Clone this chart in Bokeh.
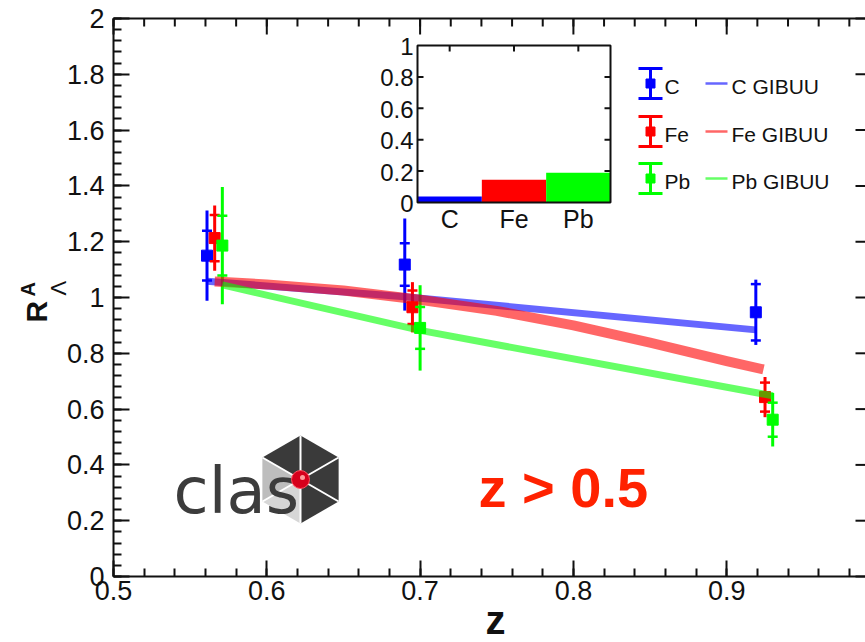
import math
from bokeh.plotting import figure
from bokeh.models import Range1d, FixedTicker, ColumnDataSource
from bokeh.embed import file_html
from bokeh.resources import INLINE
from bokeh.core.properties import value

# ---------------- data ----------------
nuclei = ["C", "Fe", "Pb"]

z_C = [0.561, 0.690, 0.919]
R_C = [1.150, 1.118, 0.947]
stat_C = [0.089, 0.076, 0.101]
tot_C = [0.162, 0.165, 0.117]

z_Fe = [0.566, 0.695, 0.925]
R_Fe = [1.213, 0.965, 0.643]
stat_Fe = [0.083, 0.060, 0.052]
tot_Fe = [0.117, 0.090, 0.072]

z_Pb = [0.571, 0.700, 0.930]
R_Pb = [1.186, 0.891, 0.562]
stat_Pb = [0.107, 0.075, 0.061]
tot_Pb = [0.210, 0.153, 0.096]

gib_z_C = [0.561, 0.690, 0.919]
gib_C = [1.058, 1.003, 0.884]
gib_z_Fe = [0.566, 0.600, 0.650, 0.700, 0.750, 0.800, 0.850, 0.900, 0.924]
gib_Fe = [1.057, 1.047, 1.025, 0.992, 0.952, 0.900, 0.838, 0.772, 0.742]
gib_z_Pb = [0.571, 0.700, 0.930]
gib_Pb = [1.045, 0.882, 0.648]

inset_vals = [0.038, 0.145, 0.190]

x_ticks = [0.5, 0.6, 0.7, 0.8, 0.9]
x_tick_labels = ["0.5", "0.6", "0.7", "0.8", "0.9"]
y_ticks = [0, 0.2, 0.4, 0.6, 0.8, 1, 1.2, 1.4, 1.6, 1.8, 2]
y_tick_labels = ["0", "0.2", "0.4", "0.6", "0.8", "1", "1.2", "1.4", "1.6", "1.8", "2"]
inset_y_ticks = [0, 0.2, 0.4, 0.6, 0.8, 1]
inset_y_labels = ["0", "0.2", "0.4", "0.6", "0.8", "1"]

colors = {"C": "#0000ff", "Fe": "#ff0000", "Pb": "#00ff00"}
series = {
    "C": (z_C, R_C, stat_C, tot_C, gib_z_C, gib_C),
    "Fe": (z_Fe, R_Fe, stat_Fe, tot_Fe, gib_z_Fe, gib_Fe),
    "Pb": (z_Pb, R_Pb, stat_Pb, tot_Pb, gib_z_Pb, gib_Pb),
}

FONT = value("Liberation Sans")
INK = "#111111"

# ---------------- layout (page pixels) ----------------
# The frame covers the whole page; the axes are pinned at z=0.5 and R=0.
W, H = 865, 642
L, R, T, B = 113, 865, 18, 576          # page position of the data box
PX_PER_Z = 1533.0
PX_PER_R = (B - T) / 2.0
X0, Y0 = 0.5, 0.0
x_end = X0 + (R - L) / PX_PER_Z

p = figure(width=W, height=H,
           x_range=Range1d(X0 - L / PX_PER_Z, X0 + (W - L) / PX_PER_Z),
           y_range=Range1d(Y0 - (H - B) / PX_PER_R, Y0 + B / PX_PER_R),
           min_border=0, output_backend="svg", toolbar_location=None, tools="",
           background_fill_color="white", border_fill_color="white")
p.outline_line_color = None
p.xgrid.visible = False
p.ygrid.visible = False

# pixel-space ranges for decorations (page pixel coordinates, y downward)
IL, IR, IT, IB = 417.0, 610.0, 45.0, 202.0
ux = 3.0 / (IR - IL)
uy = 1.0 / (IB - IT)
p.extra_x_ranges = {"px": Range1d(0, W), "ix": Range1d(-IL * ux, (W - IL) * ux)}
p.extra_y_ranges = {"py": Range1d(H, 0), "iy": Range1d((IB - H) * uy, IB * uy)}


def style_axis(ax, ticks, minor, labels):
    ax.ticker = FixedTicker(ticks=ticks, minor_ticks=minor)
    ax.major_label_overrides = dict(zip(ticks, labels))
    ax.major_tick_in = 16
    ax.major_tick_out = 0
    ax.minor_tick_in = 8
    ax.minor_tick_out = 0
    ax.axis_line_width = 2
    ax.axis_line_color = INK
    ax.major_tick_line_width = 2
    ax.minor_tick_line_width = 2
    ax.major_tick_line_color = INK
    ax.minor_tick_line_color = INK
    ax.major_label_text_font = "Liberation Sans"
    ax.major_label_text_color = INK
    ax.major_label_text_font_size = "27px"


x_minor = [round(0.5 + 0.02 * i, 2) for i in range(25)]
y_minor = [round(0.04 * i, 2) for i in range(51)]

xa = p.xaxis[0]
style_axis(xa, x_ticks, x_minor, x_tick_labels)
xa.fixed_location = Y0
xa.bounds = (X0, x_end)
xa.major_label_standoff = 4
ya = p.yaxis[0]
style_axis(ya, y_ticks, y_minor, y_tick_labels)
ya.fixed_location = X0
ya.bounds = (0, 2)
ya.major_label_standoff = 9

# top frame line and ticks, right frame ticks (frame edge lies just outside the window)
p.segment(x0=X0, x1=x_end, y0=T, y1=T, line_color=INK, line_width=2, y_range_name="py")
p.segment(x0=x_ticks, x1=x_ticks, y0=T, y1=T + 16, line_color=INK, line_width=2,
          y_range_name="py")
p.segment(x0=x_minor, x1=x_minor, y0=T, y1=T + 8, line_color=INK, line_width=2,
          y_range_name="py")
p.segment(x0=R - 10, x1=R, y0=y_ticks, y1=y_ticks, x_range_name="px",
          line_color=INK, line_width=2)

# ---------------- data points ----------------
for name in nuclei:
    z, r, st, tt, gz, gv = series[name]
    c = colors[name]
    p.segment(x0=z, x1=z, y0=[a - b for a, b in zip(r, tt)],
              y1=[a + b for a, b in zip(r, tt)], line_color=c, line_width=3)
    p.scatter(x=z + z, y=[a - b for a, b in zip(r, st)] + [a + b for a, b in zip(r, st)],
              marker="dash", size=10, line_color=c, line_width=2.5)
    p.scatter(x=z, y=r, marker="square", size=11, fill_color=c, line_color=c)

# GiBUU curves
gib_width = {"C": 7, "Fe": 10, "Pb": 7}
for name in nuclei:
    z, r, st, tt, gz, gv = series[name]
    p.line(gz, gv, line_color=colors[name], line_alpha=0.6, line_width=gib_width[name],
           line_cap="butt", line_join="round")

# ---------------- inset ----------------
p.quad(left=0, right=3, bottom=0, top=1, fill_color="white", line_color=None,
       x_range_name="ix", y_range_name="iy")
isrc = ColumnDataSource(dict(x=[0.5, 1.5, 2.5], top=inset_vals, name=nuclei,
                             color=[colors[n] for n in nuclei]))
p.vbar(x="x", top="top", bottom=0, width=1.0, fill_color="color", line_color=None,
       source=isrc, x_range_name="ix", y_range_name="iy")
p.quad(left=0, right=3, bottom=0, top=1, fill_color=None, line_color=INK,
       line_width=2, x_range_name="ix", y_range_name="iy")
tlx = 6 * ux
tly = 6 * uy
p.segment(x0=3, x1=3 - tlx, y0=inset_y_ticks[1:-1], y1=inset_y_ticks[1:-1],
          line_color=INK, line_width=2, x_range_name="ix", y_range_name="iy")
p.segment(x0=0, x1=tlx, y0=inset_y_ticks[1:-1], y1=inset_y_ticks[1:-1],
          line_color=INK, line_width=2, x_range_name="ix", y_range_name="iy")
p.segment(x0=[0.5, 1.5, 2.5], x1=[0.5, 1.5, 2.5], y0=1, y1=1 - tly,
          line_color=INK, line_width=2, x_range_name="ix", y_range_name="iy")
ylsrc = ColumnDataSource(dict(y=inset_y_ticks, t=inset_y_labels))
p.text(x=0, y="y", text="t", source=ylsrc, x_offset=-4, y_offset=1, text_align="right",
       text_baseline="middle", text_font=FONT, text_font_size="24px",
       text_color=INK, x_range_name="ix", y_range_name="iy")
p.text(x="x", y=0, text="name", source=isrc, y_offset=16, text_align="center",
       text_baseline="middle", text_font=FONT, text_font_size="25px",
       text_color=INK, x_range_name="ix", y_range_name="iy")

# ---------------- legend ----------------
leg_y = [83, 131, 178]
kw = dict(x_range_name="px", y_range_name="py")
for name, yc in zip(nuclei, leg_y):
    c = colors[name]
    p.segment(x0=650, x1=650, y0=yc - 15, y1=yc + 15, line_color=c, line_width=3, **kw)
    p.segment(x0=638, x1=662, y0=yc - 15, y1=yc - 15, line_color=c, line_width=3, **kw)
    p.segment(x0=638, x1=662, y0=yc + 15, y1=yc + 15, line_color=c, line_width=3, **kw)
    p.scatter(x=[650], y=[yc], marker="square", size=9, fill_color=c, line_color=c, **kw)
    p.text(x=664, y=yc + 3, text=[name], text_font=FONT, text_font_size="21px",
           text_color=INK, text_baseline="middle", **kw)
    p.segment(x0=705, x1=727, y0=yc, y1=yc, line_color=c, line_alpha=0.6, line_width=2.5, **kw)
    p.text(x=731, y=yc + 3, text=[name + " GIBUU"], text_font=FONT, text_font_size="21px",
           text_color=INK, text_baseline="middle", **kw)

# ---------------- z > 0.5 ----------------
p.text(x=478, y=487, text=["z > 0.5"], text_font=FONT, text_font_size="56px",
       text_font_style="bold", text_color="#ff2200", text_baseline="middle", **kw)

# ---------------- CLAS logo ----------------
cx, cy, rr = 300.0, 479.0, 44.0
angs = [90, 30, -30, -90, -150, 150]
vx = [cx + rr * math.cos(math.radians(a)) for a in angs]
vy = [cy - rr * math.sin(math.radians(a)) for a in angs]
tri_cols = ["#3a3a3a", "#3a3a3a", "#3a3a3a", "#d6d6d6", "#bdbdbd", "#3a3a3a"]
xs, ys = [], []
for i in range(6):
    j = (i + 1) % 6
    xs.append([cx, vx[i], vx[j]])
    ys.append([cy, vy[i], vy[j]])
p.patches(xs=xs, ys=ys, fill_color=tri_cols, line_color=None, **kw)
p.segment(x0=cx, y0=cy, x1=vx, y1=vy, line_color="white", line_width=2, **kw)
p.text(x=173, y=490, text=["clas"], text_font=value("DejaVu Sans"), text_font_size="64px",
       text_color="#3c3c3c", text_baseline="middle", **kw)
p.scatter(x=[cx], y=[cy], marker="circle", size=18, fill_color="#d6001c",
          line_color="#ff5060", line_width=1, **kw)
p.scatter(x=[cx + 2], y=[cy - 2], marker="circle", size=5, fill_color="#ff9a9a",
          line_color=None, **kw)

# ---------------- axis titles ----------------
p.text(x=36, y=322, text=["R"], angle=math.pi / 2, text_font=FONT, text_font_size="30px",
       text_font_style="bold", text_color=INK, text_baseline="middle", **kw)
p.text(x=27, y=296, text=["A"], angle=math.pi / 2, text_font=FONT, text_font_size="20px",
       text_font_style="bold", text_color=INK, text_baseline="middle", **kw)
p.text(x=58, y=295, text=["Λ"], angle=math.pi / 2, text_font=FONT, text_font_size="22px",
       text_color=INK, text_baseline="middle", **kw)
p.text(x=495, y=619, text=["z"], text_align="center", text_font=FONT,
       text_font_size="40px", text_font_style="bold", text_color=INK,
       text_baseline="middle", **kw)

open("out.html", "w").write(file_html(p, INLINE))
